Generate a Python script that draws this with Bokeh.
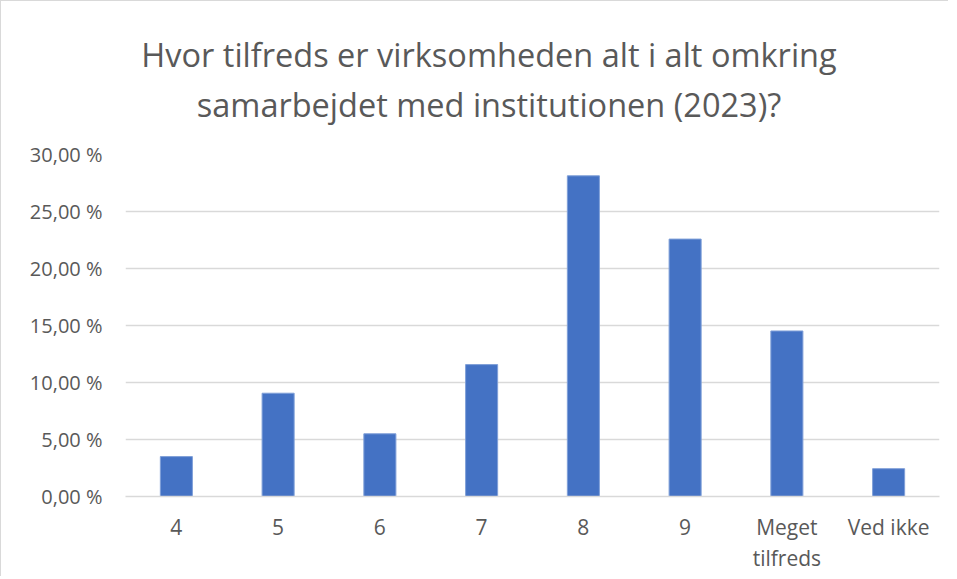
from bokeh.plotting import figure
from bokeh.models import FixedTicker, Range1d, LinearAxis, Div
from bokeh.layouts import column
from bokeh.embed import file_html
from bokeh.resources import INLINE

categories = ["4", "5", "6", "7", "8", "9", "Meget tilfreds", "Ved ikke"]
label_line1 = ["4", "5", "6", "7", "8", "9", "Meget", "Ved ikke"]
label_line2 = ["", "", "", "", "", "", "tilfreds", ""]
values = [3.50, 9.06, 5.50, 11.57, 28.13, 22.58, 14.52, 2.44]
y_ticks = [0, 5, 10, 15, 20, 25, 30]
y_tick_labels = ["0,00 %", "5,00 %", "10,00 %", "15,00 %", "20,00 %", "25,00 %", "30,00 %"]
title_lines = ["Hvor tilfreds er virksomheden alt i alt omkring",
               "samarbejdet med institutionen (2023)?"]

FONT = "Open Sans"
GREY = "#595959"
W = 947
HD = 130           # title block height
HF = 445           # figure height
BL, BR, BT, BB = 124, 9, 23, 80

xs = list(range(len(categories)))

title = Div(
    text='<div style="font-family:\'Open Sans\';font-size:32.5px;color:%s;'
         'text-align:center;line-height:50px;padding-top:29px;padding-left:29px;'
         'box-sizing:border-box;width:%dpx;white-space:nowrap;margin:0;">%s</div>'
         % (GREY, W, "<br>".join(title_lines)),
    width=W, height=HD, margin=(0, 0, 0, 0))

p = figure(x_range=Range1d(-0.5, len(categories) - 0.5), y_range=(0, 30),
           width=W, height=HF, output_backend="svg", toolbar_location=None,
           min_border_left=BL, min_border_right=BR, min_border_top=BT,
           min_border_bottom=BB, margin=(0, 0, 0, 0))

p.vbar(x=xs, top=values, width=0.315, fill_color="#4472C4",
       line_color="#7f9fd8", line_width=1)

p.xgrid.grid_line_color = None
p.ygrid.grid_line_color = "#d9d9d9"
p.ygrid.grid_line_width = 1.5
p.outline_line_color = None

p.yaxis.ticker = FixedTicker(ticks=y_ticks)
p.yaxis.major_label_overrides = {t_: l for t_, l in zip(y_ticks, y_tick_labels)}
p.yaxis.axis_line_color = None
p.yaxis.major_tick_line_color = None
p.yaxis.minor_tick_line_color = None
p.yaxis.major_label_text_font = FONT
p.yaxis.major_label_text_font_size = "20px"
p.yaxis.major_label_text_color = GREY
p.yaxis.major_label_standoff = 17

p.xaxis.ticker = FixedTicker(ticks=xs)
p.xaxis.major_label_overrides = {x: l for x, l in zip(xs, label_line1)}
p.xaxis.axis_line_color = "#d9d9d9"
p.xaxis.axis_line_width = 1.5
p.xaxis.major_tick_line_color = None
p.xaxis.minor_tick_line_color = None
p.xaxis.major_label_text_font = FONT
p.xaxis.major_label_text_font_size = "21px"
p.xaxis.major_label_text_color = GREY
p.xaxis.major_label_standoff = 10

x2 = [x for x, l in zip(xs, label_line2) if l]
ax2 = LinearAxis(ticker=FixedTicker(ticks=x2),
                 major_label_overrides={x: l for x, l in zip(xs, label_line2) if l},
                 axis_line_color=None, major_tick_line_color=None,
                 minor_tick_line_color=None,
                 major_label_text_font=FONT, major_label_text_font_size="21px",
                 major_label_text_color=GREY, major_label_standoff=-6)
p.add_layout(ax2, "below")

layout = column(title, p, spacing=0, margin=(0, 0, 0, 0),
                styles={"border-left": "1px solid #d9d9d9",
                        "border-top": "1px solid #d9d9d9"})

open("out.html", "w").write(file_html(layout, INLINE))
